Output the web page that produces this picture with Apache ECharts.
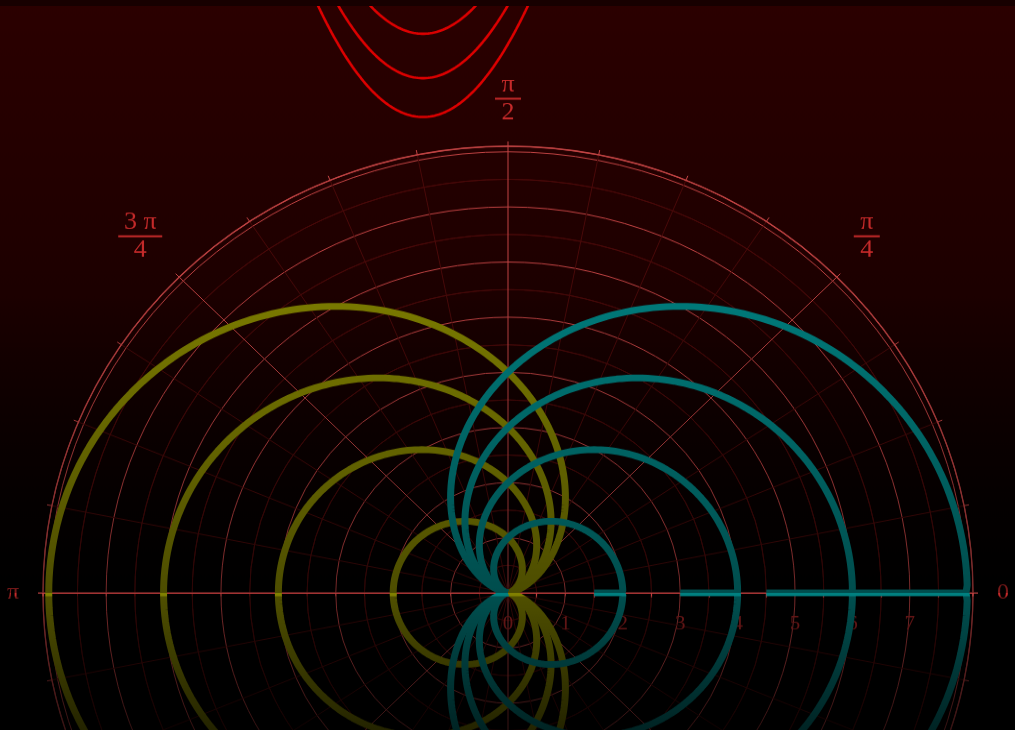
<!DOCTYPE html>
<html>
<head>
<meta charset="utf-8">
<script src="https://cdn.jsdelivr.net/npm/echarts@6/dist/echarts.min.js"></script>
<style>
  html, body { margin: 0; padding: 0; width: 1015px; height: 730px; overflow: hidden; background: #170000; }
  #chart { position: absolute; left: 0; top: 6px; width: 1015px; height: 754px;
           transform: scaleY(0.9605); transform-origin: 0 0; }
</style>
</head>
<body>
<div id="chart"></div>
<script>
// Cardioid sizes: teal r = a(1 + cos θ), olive r = a(1 - cos θ)
const tealScales = [1, 2, 3, 4];
const oliveScales = [1, 2, 3, 4];
// Angular sweep in degrees (teal sweep starts below 0 and rests on the polar axis)
const tealSweep = [-60, 180];
const oliveSweep = [0, 180];
// Radius axis
const radiusMax = 8.1;
const radiusLabels = [0, 1, 2, 3, 4, 5, 6, 7];
// Angle axis tick labels (degrees -> text)
const angleTickValues = [0, 45, 90, 135, 180];
const angleTickNames = ['0', 'π/4', 'π/2', '3π/4', 'π'];
// Red parabolas across the top: y = x^2 + b
const parabolaOffsets = [-1, -2.6, -4];

const TEAL = '#008080';
const OLIVE = '#808000';
const LABEL_RED = '#c42a2a';
const GRID_BRIGHT = '#c24444';
const GRID_DIM = '#4a0a0a';
const CENTER = [508, 611];
const RADIUS = 465;
const SERIF = '"Liberation Serif", "DejaVu Serif", serif';

const rad = d => d * Math.PI / 180;
function degrees(range) {
  const out = [];
  for (let t = range[0]; t <= range[1]; t += 1) out.push(t);
  return out;
}
function tealCurve(a) {
  return degrees(tealSweep).map(t => [a * (1 + Math.cos(rad(t))), Math.max(t, 0)]);
}
function oliveCurve(a) {
  return degrees(oliveSweep).map(t => [a * (1 - Math.cos(rad(t))), t]);
}
function parabola(b) {
  const pts = [];
  for (let x = -2.4; x <= 2.4001; x += 0.02) pts.push([x, x * x + b]);
  return pts;
}

function angleLabel(v) {
  const i = angleTickValues.findIndex(t => Math.abs(t - v) < 1e-6);
  if (i < 0) return '';
  const name = angleTickNames[i];
  if (name.indexOf('/') < 0) return '{s|' + name + '}';
  const [num, den] = name.split('/');
  const key = num.length > 1 ? 'w' : 'n';
  return '{' + key + '|' + num.replace('π', ' π').trim() + '}\n{' + key + 'bar| }\n{' + key + '|' + den + '}';
}

const fracText = { fontFamily: SERIF, fontSize: 26, color: LABEL_RED, lineHeight: 22, align: 'center' };
const angleRich = {
  s: { fontFamily: SERIF, fontSize: 24, color: LABEL_RED },
  n: Object.assign({ width: 26 }, fracText),
  w: Object.assign({ width: 44 }, fracText),
  nbar: { width: 26, height: 2, lineHeight: 7, backgroundColor: LABEL_RED },
  wbar: { width: 44, height: 2, lineHeight: 7, backgroundColor: LABEL_RED }
};

function lineSeries(data, color, polarIndex, z) {
  return {
    type: 'line', coordinateSystem: 'polar', polarIndex: polarIndex,
    data: data, showSymbol: false, symbol: 'none', clip: false, z: z,
    lineStyle: { color: color, width: 7 }, silent: true
  };
}

const series = [];
[0, 1].forEach(p => {
  const z = p === 0 ? 3 : 1;
  oliveScales.forEach(a => series.push(lineSeries(oliveCurve(a), OLIVE, p, z)));
  tealScales.forEach(a => series.push(lineSeries(tealCurve(a), TEAL, p, z)));
});
parabolaOffsets.forEach(b => series.push({
  type: 'line', xAxisIndex: 0, yAxisIndex: 0, data: parabola(b),
  showSymbol: false, symbol: 'none', silent: true,
  lineStyle: { color: '#dc0000', width: 2.6 }
}));

const angleSplit = { show: true, lineStyle: { color: [GRID_BRIGHT, GRID_DIM, GRID_DIM, GRID_DIM], width: 1 } };

const option = {
  animation: false,
  backgroundColor: {
    type: 'linear', x: 0, y: 0, x2: 0, y2: 1,
    colorStops: [
      { offset: 0, color: '#2b0000' },
      { offset: 0.4, color: '#1d0000' },
      { offset: 0.66, color: '#080000' },
      { offset: 0.8, color: '#000000' },
      { offset: 1, color: '#000000' }
    ]
  },
  grid: { left: 423 - 4 * 52.4, width: 8 * 52.4, top: 0, height: 130 },
  xAxis: { type: 'value', min: -4, max: 4, show: false },
  yAxis: { type: 'value', min: -4.5, max: 0, show: false },
  polar: [
    { center: CENTER, radius: RADIUS },
    { center: CENTER, radius: RADIUS },
    { center: CENTER, radius: RADIUS }
  ],
  angleAxis: [
    {
      polarIndex: 0, type: 'value', min: 0, max: 180, interval: 11.25,
      startAngle: 0, endAngle: 180, clockwise: false,
      axisLine: { lineStyle: { color: GRID_BRIGHT, width: 1.3 } },
      axisTick: { show: true, length: 5, lineStyle: { color: GRID_BRIGHT } },
      axisLabel: { margin: 24, formatter: angleLabel, rich: angleRich },
      splitLine: angleSplit
    },
    {
      polarIndex: 1, type: 'value', min: 0, max: 180, interval: 11.25,
      startAngle: 0, endAngle: -180, clockwise: true,
      axisLine: { lineStyle: { color: GRID_BRIGHT, width: 1.3 } },
      axisTick: { show: true, length: 5, lineStyle: { color: GRID_BRIGHT } },
      axisLabel: { show: false },
      splitLine: angleSplit
    },
    {
      polarIndex: 2, type: 'value', min: 0, max: 180,
      startAngle: 180, endAngle: 360, clockwise: false,
      axisLine: { show: false }, axisTick: { show: false },
      axisLabel: { show: false }, splitLine: { show: false }
    }
  ],
  radiusAxis: [
    {
      polarIndex: 0, type: 'value', min: 0, max: radiusMax, interval: 1,
      axisLine: { lineStyle: { color: '#b83a3a', width: 1.2 } },
      axisTick: { show: false },
      minorTick: { show: true, splitNumber: 2, length: -5, lineStyle: { color: '#c04040', width: 1.2 } },
      axisLabel: {
        margin: -43, fontFamily: SERIF, fontSize: 21, color: '#b02626',
        formatter: v => (radiusLabels.indexOf(v) >= 0 ? String(v) : '')
      },
      splitLine: { show: true, lineStyle: { color: GRID_BRIGHT, width: 1 } },
      minorSplitLine: { show: true, lineStyle: { color: GRID_DIM, width: 1 } }
    },
    {
      polarIndex: 1, type: 'value', min: 0, max: radiusMax, interval: 1,
      axisLine: { show: false }, axisTick: { show: false }, axisLabel: { show: false },
      minorTick: { show: false, splitNumber: 2 },
      splitLine: { show: true, lineStyle: { color: GRID_BRIGHT, width: 1 } },
      minorSplitLine: { show: true, lineStyle: { color: GRID_DIM, width: 1 } }
    },
    {
      polarIndex: 2, type: 'value', min: 0, max: radiusMax,
      axisLine: { lineStyle: { color: '#b83a3a', width: 1.2 } },
      axisTick: { show: false }, axisLabel: { show: false }, splitLine: { show: false }
    }
  ],
  graphic: {
    elements: [
      {
        type: 'rect', silent: true, z: 50,
        shape: { x: 0, y: 260, width: 1015, height: CENTER[1] - 260 },
        style: { fill: { type: 'linear', x: 0, y: 0, x2: 0, y2: 1,
          colorStops: [{ offset: 0, color: 'rgba(0,0,0,0)' }, { offset: 1, color: 'rgba(0,0,0,0.4)' }] } }
      },
      {
        type: 'rect', silent: true, z: 50,
        shape: { x: 0, y: CENTER[1] + 3.5, width: 1015, height: 754 - CENTER[1] - 3.5 },
        style: { fill: { type: 'linear', x: 0, y: 0, x2: 0, y2: 1,
          colorStops: [{ offset: 0, color: 'rgba(0,0,0,0.38)' }, { offset: 1, color: 'rgba(0,0,0,0.72)' }] } }
      }
    ]
  },
  series: series
};

const chart = echarts.init(document.getElementById('chart'), null, { renderer: 'canvas' });
chart.setOption(option);
</script>
</body>
</html>
